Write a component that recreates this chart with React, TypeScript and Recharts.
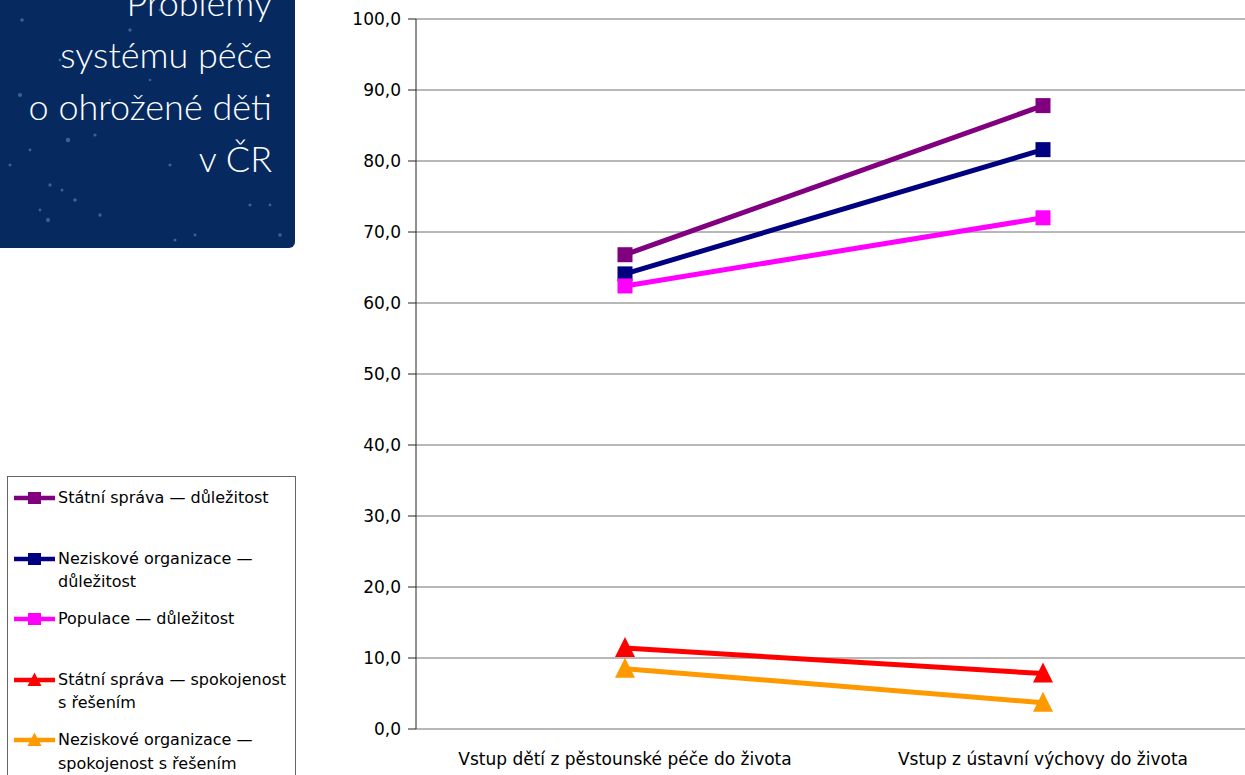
import React from "react";
import { LineChart, Line, XAxis, YAxis, CartesianGrid } from "recharts";

const categories = [
  "Vstup dětí z pěstounské péče do života",
  "Vstup z ústavní výchovy do života",
];

const statniDulezitost = [66.8, 87.8];
const neziskoveDulezitost = [64.1, 81.6];
const populaceDulezitost = [62.4, 72.0];
const statniSpokojenost = [11.4, 7.8];
const neziskoveSpokojenost = [8.5, 3.7];

const yTicks = [0, 10, 20, 30, 40, 50, 60, 70, 80, 90, 100];
const boundaryTicks = [0, 1, 2];

const titleLines = ["Problémy", "systému péče", "o ohrožené děti", "v ČR"];

type Series = {
  key: string;
  name: string[];
  color: string;
  marker: "square" | "triangle";
};

const series: Series[] = [
  { key: "sd", name: ["Státní správa — důležitost"], color: "#800080", marker: "square" },
  { key: "nd", name: ["Neziskové organizace —", "důležitost"], color: "#000080", marker: "square" },
  { key: "pd", name: ["Populace — důležitost"], color: "#ff00ff", marker: "square" },
  { key: "ss", name: ["Státní správa — spokojenost", "s řešením"], color: "#ff0000", marker: "triangle" },
  { key: "ns", name: ["Neziskové organizace —", "spokojenost s řešením"], color: "#ff9900", marker: "triangle" },
];

const data = categories.map((c, i) => ({
  category: c,
  sd: statniDulezitost[i],
  nd: neziskoveDulezitost[i],
  pd: populaceDulezitost[i],
  ss: statniSpokojenost[i],
  ns: neziskoveSpokojenost[i],
}));

// decorative specks on the title panel
const stars = [
  [22, 20, 1.8], [60, 60, 1.4], [20, 95, 2], [95, 135, 1.6], [68, 140, 2.2], [30, 150, 1.4],
  [50, 185, 1.7], [62, 190, 1.5], [75, 200, 1.8], [40, 210, 1.4], [100, 215, 1.7], [48, 220, 2],
  [170, 165, 1.6], [160, 10, 1.4], [130, 30, 1.7], [250, 205, 1.6], [270, 205, 1.4], [280, 235, 1.8],
  [175, 240, 1.5], [195, 235, 1.4], [10, 165, 1.5], [110, 100, 1.3], [240, 60, 1.5], [150, 80, 1.3],
];

const squareDot = (color: string) => (props: any) => {
  const { cx, cy, index } = props;
  return <rect key={`sq-${index}`} x={cx - 7.5} y={cy - 7.5} width={15} height={15} fill={color} />;
};

const triangleDot = (color: string) => (props: any) => {
  const { cx, cy, index } = props;
  return (
    <path
      key={`tr-${index}`}
      d={`M${cx},${cy - 11} L${cx + 10},${cy + 9} L${cx - 10},${cy + 9} Z`}
      fill={color}
    />
  );
};

const fmt = (v: number) => v.toFixed(1).replace(".", ",");

const font = "'DejaVu Sans', Verdana, sans-serif";

const LegendSample = ({ s }: { s: Series }) => (
  <svg width={42} height={16} style={{ position: "absolute", left: 6, top: 4 }}>
    <line x1={0} y1={8} x2={41} y2={8} stroke={s.color} strokeWidth={4.5} />
    {s.marker === "square" ? (
      <rect x={14} y={2} width={13} height={12} fill={s.color} />
    ) : (
      <path d="M20.5,0.5 L27.5,14 L13.5,14 Z" fill={s.color} />
    )}
  </svg>
);

export default function App() {
  return (
    <div
      style={{
        position: "fixed",
        left: 0,
        top: 0,
        width: 1245,
        height: 775,
        overflow: "hidden",
        background: "#fff",
      }}
    >
      <div
        style={{
          position: "absolute",
          left: 0,
          top: 0,
          width: 295,
          height: 248,
          background: "#062a5f",
          borderBottomRightRadius: 6,
          overflow: "hidden",
        }}
      >
        <svg width={295} height={248} style={{ position: "absolute", left: 0, top: 0 }}>
          {stars.map(([x, y, r], i) => (
            <circle key={i} cx={x} cy={y} r={r} fill="#7fa6e0" opacity={0.45} />
          ))}
        </svg>
        <div
          style={{
            position: "absolute",
            right: 23,
            top: -24,
            textAlign: "right",
            color: "#fff",
            fontFamily: "Lato, 'Open Sans', sans-serif",
            fontWeight: 300,
            fontSize: 36,
            lineHeight: "52px",
            whiteSpace: "nowrap",
          }}
        >
          {titleLines.map((t) => (
            <div key={t}>{t}</div>
          ))}
        </div>
      </div>

      <div
        style={{
          position: "absolute",
          left: 7,
          top: 476,
          width: 287,
          height: 320,
          border: "1px solid #666",
          fontFamily: font,
          fontSize: 16,
          color: "#000",
        }}
      >
        {series.map((s, i) => (
          <div
            key={s.key}
            style={{
              position: "absolute",
              left: 0,
              top: 9 + i * 60.5,
              width: 287,
              height: 60,
            }}
          >
            <LegendSample s={s} />
            <div style={{ position: "absolute", left: 50, top: 0, lineHeight: "23.5px" }}>
              {s.name.map((n) => (
                <div key={n}>{n}</div>
              ))}
            </div>
          </div>
        ))}
      </div>

      <div style={{ position: "absolute", left: 0, top: 0 }}>
        <LineChart
          width={1252}
          height={775}
          data={data}
          margin={{ top: 19, right: 0, bottom: 0, left: 0 }}
        >
          <CartesianGrid vertical={false} stroke="#707070" strokeWidth={1} />
          <XAxis
            xAxisId="bounds"
            type="number"
            domain={[0, 2]}
            ticks={boundaryTicks}
            tick={false}
            tickSize={6}
            height={0}
            stroke="#222"
            axisLine={{ stroke: "#222" }}
          />
          <XAxis
            dataKey="category"
            height={46}
            padding={{ left: 209, right: 209 }}
            axisLine={false}
            tickLine={false}
            tickSize={0}
            tickMargin={24}
            interval={0}
            tick={{ fontSize: 17, fill: "#000", fontFamily: font }}
          />
          <YAxis
            width={416}
            domain={[0, 100]}
            ticks={yTicks}
            tickFormatter={fmt}
            tickSize={8}
            tickMargin={7}
            stroke="#222"
            tick={{ fontSize: 17, fill: "#000", fontFamily: font }}
          />
          {series.map((s) => (
            <Line
              key={s.key}
              dataKey={s.key}
              name={s.name.join(" ")}
              type="linear"
              stroke={s.color}
              strokeWidth={5}
              dot={s.marker === "square" ? squareDot(s.color) : triangleDot(s.color)}
              activeDot={false}
              isAnimationActive={false}
            />
          ))}
        </LineChart>
      </div>
    </div>
  );
}
